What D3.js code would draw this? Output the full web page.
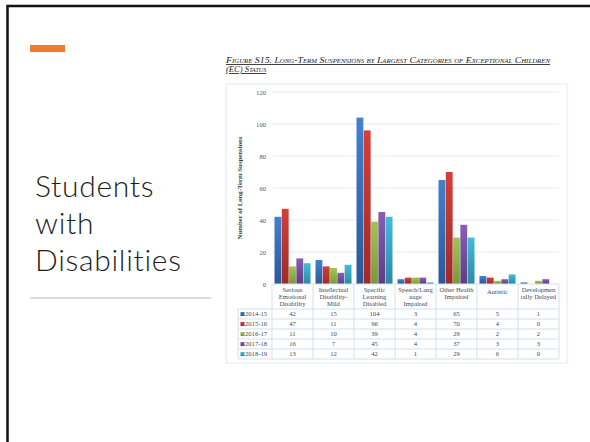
<!DOCTYPE html>
<html><head><meta charset="utf-8">
<script src="https://cdn.jsdelivr.net/npm/d3@7"></script>
<style>html,body{margin:0;padding:0;background:#fff;overflow:hidden}</style>
</head><body>
<svg id="c" width="590" height="442"></svg>
<script>
const categories = ["Serious Emotional Disability","Intellectual Disability-Mild","Specific Learning Disabled","Speech/Language Impaired","Other Health Impaired","Autistic","Developmentally Delayed"];
const categoryLines = [["Serious","Emotional","Disability"],["Intellectual","Disability-","Mild"],["Specific","Learning","Disabled"],["Speech/Lang","uage","Impaired"],["Other Health","Impaired"],["Autistic"],["Developmen","tally Delayed"]];
const seriesNames = ["2014-15","2015-16","2016-17","2017-18","2018-19"];
const v2014 = [42,15,104,3,65,5,1];
const v2015 = [47,11,96,4,70,4,0];
const v2016 = [11,10,39,4,29,2,2];
const v2017 = [16,7,45,4,37,3,3];
const v2018 = [13,12,42,1,29,6,0];
const seriesValues = [v2014,v2015,v2016,v2017,v2018];
const yTicks = [0,20,40,60,80,100,120];
const colorsTop = ["#4282cf","#d43f3a","#a2c551","#8a5fb3","#42bddb"];
const colorsBot = ["#2a5797","#9e2a27","#789a37","#5c3d82","#2a8aa3"];
const titleLines = ["Students","with","Disabilities"];

const svg = d3.select("#c");
// slide border
svg.append("path").attr("d","M7.5,442 V6 H590").attr("fill","none").attr("stroke","#111").attr("stroke-width",2.5);
// orange accent
svg.append("rect").attr("x",30).attr("y",45).attr("width",35).attr("height",7).attr("fill","#ed7d31");
// slide title (one text block, three lines)
svg.append("text").attr("y",197)
  .attr("font-family","Lato, 'Open Sans', sans-serif").attr("font-weight",300)
  .attr("font-size",30).attr("letter-spacing",0.7).style("font-variant-ligatures","none").attr("fill","#1e1e1e")
  .selectAll("tspan").data(titleLines).join("tspan")
  .attr("x",35).attr("dy",(d,i)=>i===0?0:37).text(d=>d);
svg.append("line").attr("x1",30).attr("x2",211).attr("y1",298).attr("y2",298).attr("stroke","#d0d0d0").attr("stroke-width",1.5);

// chart title
const tg = svg.append("g").attr("font-family","'Liberation Serif', serif").attr("font-style","italic")
  .attr("font-size",8.6).attr("fill","#222").style("font-variant","small-caps").attr("text-decoration","underline");
tg.append("text").attr("x",226).attr("y",63).attr("textLength",324).attr("lengthAdjust","spacingAndGlyphs")
  .text("Figure S15. Long-Term Suspensions by Largest Categories of Exceptional Children");
tg.append("text").attr("x",226).attr("y",72).text("(EC) Status");

// frame
svg.append("rect").attr("x",226).attr("y",84).attr("width",341).attr("height",279).attr("fill","none").attr("stroke","#e2e9f2").attr("stroke-width",1);

const defs = svg.append("defs");
colorsTop.forEach((c,i)=>{
  const g = defs.append("linearGradient").attr("id","g"+i).attr("x1",0).attr("x2",0).attr("y1",0).attr("y2",1);
  g.append("stop").attr("offset","0%").attr("stop-color",c);
  g.append("stop").attr("offset","100%").attr("stop-color",colorsBot[i]);
});

const x0 = d3.scaleBand().domain(categories).range([272,559]);
const x1 = d3.scaleBand().domain(seriesNames).range([2.5,x0.bandwidth()-2.5]).paddingInner(0.06);
const y = d3.scaleLinear().domain([0,120]).range([284,92]);

// grid
svg.append("g").selectAll("line").data(yTicks.filter(t=>t>0)).join("line")
  .attr("x1",272).attr("x2",559).attr("y1",d=>y(d)).attr("y2",d=>y(d)).attr("stroke","#e3eaf3").attr("stroke-width",1);
// y axis labels
const yAxis = d3.axisLeft(y).tickValues(yTicks).tickSize(0).tickPadding(0);
const ya = svg.append("g").attr("transform","translate(266,0)").call(yAxis);
ya.select(".domain").remove();
ya.selectAll("text").attr("font-family","'Liberation Serif', serif").attr("font-size",6.6).attr("fill","#555");
svg.append("text").attr("transform","translate(242,188) rotate(-90)").attr("text-anchor","middle")
  .attr("font-family","'Liberation Serif', serif").attr("font-weight","bold").attr("font-size",6.8).attr("fill","#3a3a3a")
  .text("Number of Long-Term Suspensions");

// bars
seriesValues.forEach((vals,si)=>{
  svg.append("g").selectAll("rect").data(vals).join("rect")
    .attr("x",(d,i)=>x0(categories[i])+x1(seriesNames[si]))
    .attr("width",x1.bandwidth())
    .attr("y",d=>y(d)).attr("height",d=>y(0)-y(d))
    .attr("fill","url(#g"+si+")");
});

// table
const tc = "#d5dfeb";
const tb = svg.append("g");
const rowTop = 309, rowH = 10;
tb.append("line").attr("x1",272).attr("x2",559).attr("y1",284).attr("y2",284).attr("stroke",tc);
for(let r=0;r<=seriesNames.length;r++){
  tb.append("line").attr("x1",238).attr("x2",559).attr("y1",rowTop+r*rowH).attr("y2",rowTop+r*rowH).attr("stroke",tc);
}
categories.forEach(c=>{
  tb.append("line").attr("x1",x0(c)).attr("x2",x0(c)).attr("y1",284).attr("y2",rowTop+seriesNames.length*rowH).attr("stroke",tc);
});
tb.append("line").attr("x1",559).attr("x2",559).attr("y1",284).attr("y2",rowTop+seriesNames.length*rowH).attr("stroke",tc);
tb.append("line").attr("x1",238).attr("x2",238).attr("y1",rowTop).attr("y2",rowTop+seriesNames.length*rowH).attr("stroke",tc);

const tf = "'Liberation Serif', serif";
const fs = 6.6;
categoryLines.forEach((lines,i)=>{
  const cx = x0(categories[i])+x0.bandwidth()/2;
  const n = lines.length;
  const startY = n===1 ? 294 : 292;
  tb.append("g").selectAll("text").data(lines).join("text")
    .attr("x",cx).attr("y",(d,k)=>startY+k*7.2).attr("text-anchor","middle")
    .attr("font-family",tf).attr("font-size",fs).attr("fill","#3d4a5c").text(d=>d);
});
seriesNames.forEach((s,si)=>{
  const cy = rowTop+si*rowH+rowH/2;
  tb.append("rect").attr("x",240.5).attr("y",cy-2).attr("width",4).attr("height",4).attr("fill","url(#g"+si+")");
  tb.append("text").attr("x",245).attr("y",cy+2.3).attr("font-family",tf).attr("font-size",fs).attr("fill","#3d4a5c").text(s);
  tb.append("g").selectAll("text").data(seriesValues[si]).join("text")
    .attr("x",(d,i)=>x0(categories[i])+x0.bandwidth()/2).attr("y",cy+2.3).attr("text-anchor","middle")
    .attr("font-family",tf).attr("font-size",fs).attr("fill","#3d4a5c").text(d=>d);
});
</script>
</body></html>
